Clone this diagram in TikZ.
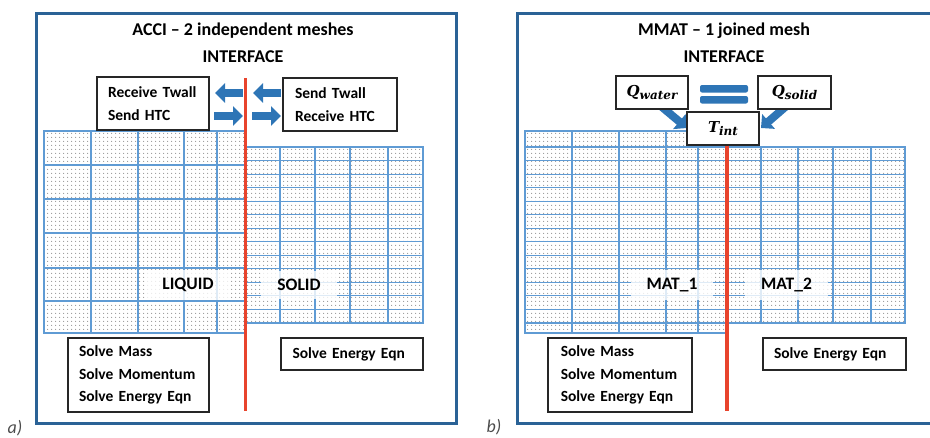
\documentclass[tikz,border=0pt]{standalone}
\usepackage{fontspec}
\setmainfont{Carlito}
\newfontfamily\qfont{DejaVu Serif}
\usetikzlibrary{arrows.meta,patterns.meta}
\definecolor{frameblue}{RGB}{42,98,150}
\definecolor{gridblue}{RGB}{95,155,212}
\definecolor{arrowblue}{RGB}{46,117,182}
\definecolor{ifred}{RGB}{232,68,45}
\definecolor{dotgray}{RGB}{150,150,150}
\newcommand\qsym[2]{{\fontsize{15}{18}\selectfont #1}\raisebox{-0.3em}{\fontsize{12}{14}\selectfont #2}}
\tikzset{
 panel/.style={draw=frameblue, line width=3pt},
 meshfill/.style={pattern={Dots[distance=4pt,radius=0.7pt]}, pattern color=dotgray},
 gridline/.style={draw=gridblue, line width=1.1pt},
 iface/.style={draw=ifred, line width=3.2pt},
 txtbox/.style={draw=black!85, line width=1.4pt, fill=white, font=\fontsize{15.5}{22.5}\selectfont\bfseries, align=left, inner ysep=0pt},
 titletext/.style={font=\fontsize{18}{20}\selectfont\bfseries, inner sep=0pt},
 region/.style={font=\fontsize{17.5}{20}\selectfont\bfseries, fill=white, fill opacity=0.8, text opacity=1, inner xsep=16pt, inner ysep=8pt},
 blockarrow/.style={draw=arrowblue, line width=8pt, -{Triangle[length=10pt,width=19pt]}},
 eqbar/.style={fill=arrowblue, rounded corners=2pt},
 qbox/.style={draw=black!85, line width=1.4pt, fill=white, minimum height=33pt, inner sep=0pt, font=\qfont\bfseries\itshape},
 panellabel/.style={font=\fontsize{18}{20}\selectfont\itshape, text=black!70, inner sep=0pt}
}
\begin{document}
\begin{tikzpicture}[x=1pt,y=-1pt]
\useasboundingbox (0,0) rectangle (930,437);
\clip (0,0) rectangle (930,437);

% ---------------- panel a ----------------
\draw[panel] (36,13) rectangle (456,423);
\node[titletext] (ta) at (243,31) {ACCI -- 2 independent meshes};
\node[titletext] (ia) at (243,57) {INTERFACE};

% liquid mesh
\fill[meshfill] (44,131) rectangle (245,333);
\foreach \x in {91,138,184,217} \draw[gridline] (\x,131) -- (\x,333);
\foreach \y in {165,199,233,268,301} \draw[gridline] (44,\y) -- (245,\y);
\draw[gridline] (44,131) rectangle (245,333);
% solid mesh
\fill[meshfill] (245,147) rectangle (423,323);
\foreach \x in {280,315,350,388} \draw[gridline] (\x,147) -- (\x,323);
\foreach \k in {1,...,12} \draw[gridline] (245,{147+\k*13.54}) -- (423,{147+\k*13.54});
\draw[gridline] (245,147) rectangle (423,323);

\node[region] (liq) at (188,285) {LIQUID};
\node[region] (sol) at (299,285) {SOLID};

\coordinate (ifaTop) at (245.5,78);
\coordinate (ifaBot) at (245.5,411);
\draw[iface] (ifaTop) -- (ifaBot);

\node[txtbox, text width=90pt, inner xsep=11pt, minimum height=53pt] (recv) at (153,103.5) {Receive Twall\\Send HTC};
\node[txtbox, text width=90pt, inner xsep=12pt, minimum height=53pt] (send) at (340,104.5) {Send Twall\\Receive HTC};

\coordinate (a1s) at (243,93);  \coordinate (a1e) at (215,93);
\coordinate (a2s) at (281,93);  \coordinate (a2e) at (253,93);
\coordinate (a3s) at (214,116); \coordinate (a3e) at (243,116);
\coordinate (a4s) at (252,116); \coordinate (a4e) at (281,116);
\draw[blockarrow] (a1s) -- (a1e);
\draw[blockarrow] (a2s) -- (a2e);
\draw[blockarrow] (a3s) -- (a3e);
\draw[blockarrow] (a4s) -- (a4e);

\node[txtbox, text width=119pt, inner xsep=11pt, minimum height=74pt] (solveL) at (138.5,375) {Solve Mass\\Solve Momentum\\Solve Energy Eqn};
\node[txtbox, text width=119pt, inner xsep=11.5pt, minimum height=32pt] (solveR) at (352,354) {Solve Energy Eqn};

\node[panellabel] (la) at (15,428) {a)};

% ---------------- panel b ----------------
\draw[panel] (517,13) rectangle (937,423);
\node[titletext] (tb) at (724,31) {MMAT -- 1 joined mesh};
\node[titletext] (ib) at (724,57) {INTERFACE};

% left part
\fill[meshfill] (525,131) rectangle (727,333);
\foreach \x in {572,619,666,698} \draw[gridline] (\x,131) -- (\x,333);
\foreach \k in {0,...,13} \draw[gridline] (525,{147+\k*13.54}) -- (727,{147+\k*13.54});
\draw[gridline] (525,131) rectangle (727,333);
% right part
\fill[meshfill] (727,147) rectangle (905,323);
\foreach \x in {761,798,833,871} \draw[gridline] (\x,147) -- (\x,323);
\foreach \k in {1,...,12} \draw[gridline] (727,{147+\k*13.54}) -- (905,{147+\k*13.54});
\draw[gridline] (727,147) rectangle (905,323);

\node[region] (m1) at (672,285) {MAT\_1};
\node[region] (m2) at (786.5,285) {MAT\_2};

\coordinate (d1s) at (656,102); \coordinate (d1e) at (687,128);
\coordinate (d2s) at (791,102); \coordinate (d2e) at (761,128);
\draw[blockarrow] (d1s) -- (d1e);
\draw[blockarrow] (d2s) -- (d2e);

\node[qbox, minimum width=72pt] (qw) at (652,92.5) {\qsym{Q}{water}};
\node[qbox, minimum width=73pt] (qs) at (794.5,92.5) {\qsym{Q}{solid}};
\node[qbox, minimum width=72pt] (tint) at (723,128.5) {\qsym{T}{int}};

\fill[eqbar] (700,85) rectangle (748,92.5);
\fill[eqbar] (700,96) rectangle (748,103.5);

\coordinate (ifbBot) at (727,411);
\draw[iface] (tint.south -| ifbBot) -- (ifbBot);

\node[txtbox, text width=118.5pt, inner xsep=12.75pt, minimum height=74pt] (solveL2) at (620,375) {Solve Mass\\Solve Momentum\\Solve Energy Eqn};
\node[txtbox, text width=121pt, inner xsep=11pt, minimum height=32pt] (solveR2) at (834.5,354) {Solve Energy Eqn};

\node[panellabel] (lb) at (494,427) {b)};
\end{tikzpicture}
\end{document}
